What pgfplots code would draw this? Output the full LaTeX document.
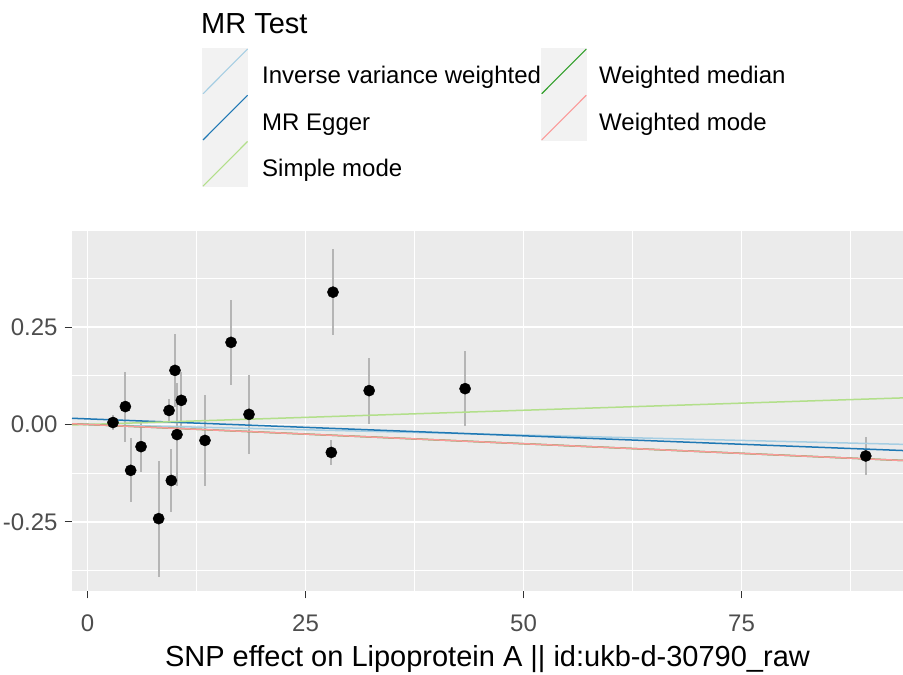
\documentclass[border=0pt]{standalone}
\usepackage{fontspec}
\setmainfont{Liberation Sans}
\usepackage{pgfplots}
\usepackage{pgfplotstable}
\pgfplotsset{compat=1.18}
\definecolor{panelbg}{HTML}{EBEBEB}
\definecolor{keybg}{HTML}{F2F2F2}
\definecolor{ivw}{HTML}{A6CEE3}
\definecolor{egger}{HTML}{1F78B4}
\definecolor{smode}{HTML}{B2DF8A}
\definecolor{wmed}{HTML}{33A02C}
\definecolor{wmode}{HTML}{FB9A99}
\definecolor{tickc}{HTML}{333333}
\definecolor{ticklab}{HTML}{4D4D4D}
\definecolor{errc}{HTML}{B5B5B5}

\pgfplotstableread{
x y se
2.92 0.005 0.020
4.34 0.046 0.090
4.95 -0.118 0.082
6.14 -0.057 0.065
8.16 -0.242 0.149
9.35 0.036 0.029
9.61 -0.144 0.080
10.03 0.139 0.094
10.26 -0.026 0.132
10.76 0.062 0.073
13.47 -0.041 0.118
16.46 0.211 0.110
18.52 0.026 0.102
28.15 0.340 0.110
27.96 -0.072 0.033
32.30 0.087 0.085
43.30 0.092 0.097
89.25 -0.081 0.049
}\snps

\begin{document}
\begin{tikzpicture}
\useasboundingbox (0,0) rectangle (903pt,675pt);
\begin{axis}[
  at={(72pt,84pt)}, anchor=south west,
  scale only axis, width=831pt, height=360.3pt,
  xmin=-1.78, xmax=93.52, ymin=-0.428, ymax=0.498,
  axis background/.style={fill=panelbg},
  axis line style={draw=none},
  xtick={0,25,50,75}, xticklabels={0,25,50,75},
  ytick={-0.25,0,0.25}, yticklabels={-0.25,0.00,0.25},
  minor xtick={12.5,37.5,62.5,87.5},
  minor ytick={-0.375,-0.125,0.125,0.375},
  grid=both,
  major grid style={white, line width=1.7pt},
  minor grid style={white, line width=0.85pt},
  tick align=outside,
  major tick length=7.3pt, minor tick length=0pt,
  tick style={color=tickc, line width=1.1pt},
  xtick pos=bottom, ytick pos=left,
  /pgf/number format/assume math mode=true,
  ticklabel style={font=\fontsize{24}{28}\selectfont, text=ticklab, inner sep=0pt},
  xticklabel style={yshift=-16pt},
  yticklabel style={xshift=-7pt},
  xlabel={SNP effect on Lipoprotein A || id:ukb-d-30790\_raw},
  xlabel style={at={(axis description cs:0.5,0)}, anchor=base, yshift=-75pt, font=\fontsize{29}{34}\selectfont, inner sep=0pt},
  clip=true,
]
\addplot[draw=none, mark=none, forget plot,
  error bars/.cd, y dir=both, y explicit, error mark=none,
  error bar style={draw=errc, line width=1.8pt}]
  table[x=x, y=y, y error=se] {\snps};
\addplot[ivw, line width=1.5pt] coordinates {(-1.78,0.00097) (93.52,-0.0511)};
\addplot[egger, line width=1.5pt] coordinates {(-1.78,0.0159) (93.52,-0.0670)};
\addplot[smode, line width=1.5pt] coordinates {(-1.78,-0.0013) (93.52,0.0683)};
\addplot[wmed, line width=1.5pt] coordinates {(-1.78,0.0018) (93.52,-0.0926)};
\addplot[wmode, line width=1.5pt] coordinates {(-1.78,0.0018) (93.52,-0.0926)};
\addplot[only marks, mark=*, mark size=5.6pt, mark options={fill=black, draw=black}]
  table[x=x, y=y] {\snps};
\end{axis}

% legend
\node[anchor=base west, inner sep=0pt, font=\fontsize{29}{34}\selectfont] at (201pt,641.7pt) {MR Test};
\foreach \c/\t/\top in {ivw/Inverse variance weighted/626.7, egger/MR Egger/580.5, smode/Simple mode/534.3}{
  \fill[keybg] (202.3pt,\top pt-46.2pt) rectangle (248.3pt,\top pt);
  \draw[\c, line width=1.1pt] (203pt,\top pt-45.5pt) -- (247.6pt,\top pt-0.7pt);
  \node[anchor=base west, inner sep=0pt, font=\fontsize{24}{28}\selectfont, text=black] at (262pt,\top pt-35.7pt) {\t};
}
\foreach \c/\t/\top in {wmed/Weighted median/626.7, wmode/Weighted mode/580.5}{
  \fill[keybg] (541pt,\top pt-46.2pt) rectangle (587pt,\top pt);
  \draw[\c, line width=1.1pt] (541.7pt,\top pt-45.5pt) -- (586.3pt,\top pt-0.7pt);
  \node[anchor=base west, inner sep=0pt, font=\fontsize{24}{28}\selectfont, text=black] at (599pt,\top pt-35.7pt) {\t};
}
\end{tikzpicture}
\end{document}
